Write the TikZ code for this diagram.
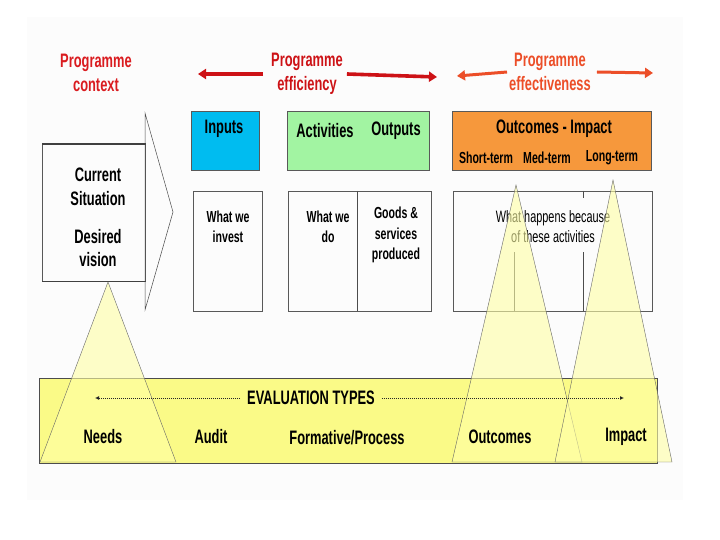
\documentclass[tikz,border=0pt]{standalone}
\usepackage{fontspec}
\usepackage{tikz}
\usepackage{xcolor}
\usetikzlibrary{arrows.meta,positioning}
\newfontfamily\narrowfont{Liberation Sans}[FakeStretch=0.66]

\definecolor{ctxred}{RGB}{218,28,32}
\definecolor{effred}{RGB}{205,18,22}
\definecolor{effvorange}{RGB}{236,78,40}
\definecolor{inblue}{RGB}{0,188,240}
\definecolor{actgreen}{RGB}{162,244,162}
\definecolor{outorange}{RGB}{246,152,60}
\definecolor{bandyellow}{RGB}{250,250,135}
\definecolor{triyellow}{RGB}{255,255,165}

\begin{document}
\begin{tikzpicture}[x=1pt,y=-1pt,
    headtxt/.style={font=\narrowfont\bfseries\fontsize{19.5}{23.5}\selectfont, align=center, inner sep=2pt},
    bigtxt/.style={font=\narrowfont\bfseries\fontsize{19.5}{23.5}\selectfont, align=center, inner sep=1pt},
    smalltxt/.style={font=\narrowfont\bfseries\fontsize{16}{20.5}\selectfont, align=center, inner sep=1pt},
    cbox/.style={draw=black!65, line width=0.7pt, anchor=north west},
    band/.style={draw=black!70, line width=0.6pt, fill=bandyellow, anchor=north west},
    tri/.style={draw=black!60, line width=0.4pt, fill=triyellow, fill opacity=0.6},
    redarrow/.style={line width=3.6pt, -{Triangle[length=8pt,width=10pt]}},
    dotarrow/.style={densely dotted, line width=1pt, black!85, -{Latex[length=4pt,width=4pt]}},
  ]
  \useasboundingbox (0,0) rectangle (720,540);
  \fill[black!1] (27,17) rectangle (683,500);

  % headings with their arrows
  \node[headtxt, text=ctxred] (ctx) at (96,73) {Programme\\context};
  \node[headtxt, text=effred] (eff) at (307,74) {Programme\\efficiency};
  \node[headtxt, text=effvorange] (effv) at (550,72) {Programme\\effectiveness};
  \coordinate (effL) at (198,74);
  \coordinate (effR) at (437,77);
  \coordinate (effvL) at (457,76);
  \coordinate (effvR) at (653,73);
  \draw[redarrow, effred] ([xshift=-6pt]eff.west) -- (effL);
  \draw[redarrow, effred] ([xshift=2pt]eff.east) -- (effR);
  \draw[redarrow, effvorange, line width=3pt] (effv.west) -- (effvL);
  \draw[redarrow, effvorange, line width=3pt] ([xshift=4pt]effv.east) -- (effvR);

  % context box with chevron
  \node[cbox, minimum width=103, minimum height=137] (current) at (42,144) {};
  \draw[black!75, line width=1.4pt] (current.north west) -- (current.north east);
  \draw[black!75, line width=1.4pt] (current.south west) -- (current.south east);
  \draw[black!70, line width=0.5pt] (145,113) -- (173,212) -- (145,310) -- cycle;
  \node[bigtxt] (cursit) at (98,187) {Current\\Situation};
  \node[bigtxt] (desvis) at (98,248) {Desired\\vision};

  % upper boxes
  \node[cbox, fill=inblue, minimum width=68, minimum height=59] (inputs) at (191,111) {};
  \node[cbox, fill=actgreen, minimum width=142, minimum height=59] (actout) at (287,111) {};
  \node[cbox, fill=outorange, minimum width=199, minimum height=59] (outimp) at (452,111) {};
  \node[bigtxt] (inputstxt) at (224,129) {Inputs};
  \node[bigtxt] (acttxt) at (325,131) {Activities};
  \node[bigtxt] (outtxt) at (396,131) {Outputs};
  \node[bigtxt] (outimptxt) at (554,129) {Outcomes - Impact};
  \node[smalltxt] (shorttxt) at (486,158) {Short-term};
  \node[smalltxt] (medtxt) at (547,158) {Med-term};
  \node[smalltxt] (longtxt) at (612,158) {Long-term};

  % lower boxes
  \node[cbox, minimum width=69, minimum height=120] (invest) at (193,191) {};
  \node[cbox, minimum width=143, minimum height=120] (doprod) at (288,191) {};
  \node[cbox, minimum width=199, minimum height=120] (happens) at (453,191) {};
  \draw[black!70, line width=0.5pt] (357,191) -- (357,311);
  \draw[black!70, line width=0.5pt] (514,252) -- (514,311);
  \draw[black!70, line width=0.5pt] (583,191) -- (583,198);
  \draw[black!70, line width=0.5pt] (583,252) -- (583,311);
  \node[smalltxt] (investtxt) at (228,227) {What we\\invest};
  \node[smalltxt] (dotxt) at (328,227) {What we\\do};
  \node[smalltxt] (goodstxt) at (396,235) {Goods \&\\services\\produced};
  \node[smalltxt, font=\narrowfont\fontsize{16.5}{20}\selectfont] (happenstxt) at (553,227) {What happens because\\of these activities};

  % evaluation band
  \node[band, minimum width=618, minimum height=85] (evalband) at (39,378) {};

  % triangles
  \filldraw[tri] (108,282) -- (40,462) -- (176,462) -- cycle;
  \filldraw[tri] (516,185) -- (452,462) -- (582,462) -- cycle;
  \filldraw[tri] (613,180) -- (555,462) -- (672,462) -- cycle;

  % evaluation types
  \node[bigtxt] (evaltypes) at (311,398) {EVALUATION TYPES};
  \coordinate (evalL) at (95,398);
  \coordinate (evalR) at (624,398);
  \draw[dotarrow] ([xshift=-6pt]evaltypes.west) -- (evalL);
  \draw[dotarrow] ([xshift=6pt]evaltypes.east) -- (evalR);
  \node[bigtxt] (needs) at (103,437) {Needs};
  \node[bigtxt] (audit) at (211,437) {Audit};
  \node[bigtxt] (formative) at (347,438) {Formative/Process};
  \node[bigtxt] (outcomes) at (500,437) {Outcomes};
  \node[bigtxt] (impact) at (626,437) {Impact};
\end{tikzpicture}
\end{document}
